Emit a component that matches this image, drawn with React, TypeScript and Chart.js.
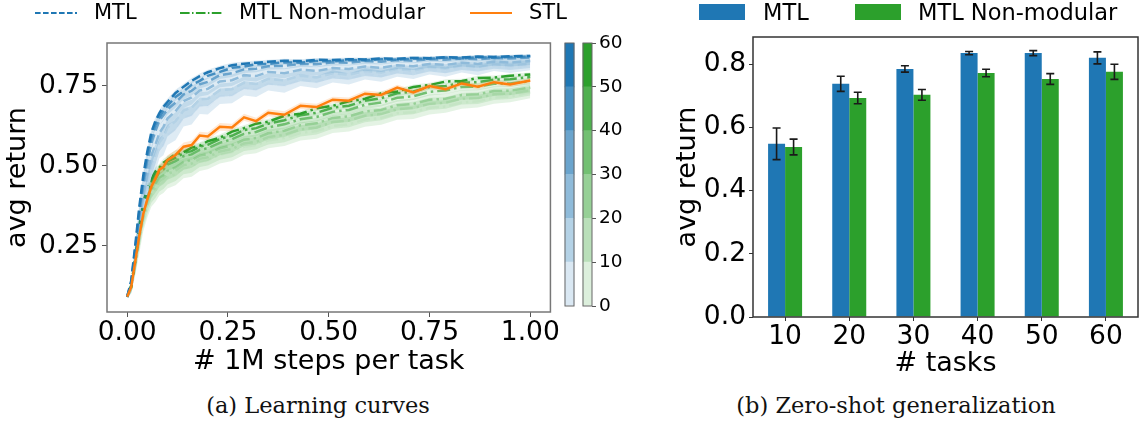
import React, { useEffect, useRef } from "react";
import { Chart, registerables } from "chart.js";
Chart.register(...registerables);

// ---------------- data ----------------
const steps = [0, 0.01, 0.02, 0.03, 0.04, 0.05, 0.06, 0.07, 0.08, 0.09, 0.1, 0.12, 0.14, 0.16, 0.18, 0.2, 0.23, 0.26, 0.29, 0.32, 0.35, 0.39, 0.43, 0.47, 0.51, 0.55, 0.59, 0.63, 0.67, 0.71, 0.75, 0.79, 0.83, 0.87, 0.91, 0.95, 1.0];

const mtl60 = [0.09, 0.14, 0.25, 0.37, 0.47, 0.545, 0.605, 0.64, 0.665, 0.685, 0.70, 0.728, 0.748, 0.766, 0.781, 0.793, 0.806, 0.815, 0.82, 0.823, 0.826, 0.829, 0.828, 0.832, 0.831, 0.834, 0.833, 0.836, 0.835, 0.838, 0.837, 0.84, 0.839, 0.842, 0.841, 0.843, 0.844];
const mtl50 = [0.09, 0.135, 0.24, 0.355, 0.455, 0.53, 0.588, 0.628, 0.652, 0.672, 0.688, 0.716, 0.733, 0.754, 0.766, 0.782, 0.794, 0.807, 0.811, 0.818, 0.819, 0.824, 0.823, 0.828, 0.827, 0.831, 0.83, 0.834, 0.832, 0.836, 0.835, 0.839, 0.836, 0.84, 0.838, 0.841, 0.842];
const mtl40 = [0.09, 0.13, 0.23, 0.34, 0.44, 0.512, 0.57, 0.608, 0.642, 0.658, 0.677, 0.698, 0.723, 0.735, 0.755, 0.763, 0.784, 0.79, 0.802, 0.804, 0.812, 0.813, 0.819, 0.818, 0.824, 0.823, 0.828, 0.826, 0.831, 0.829, 0.834, 0.832, 0.836, 0.834, 0.838, 0.836, 0.839];
const mtl30 = [0.09, 0.125, 0.22, 0.32, 0.41, 0.478, 0.532, 0.566, 0.603, 0.622, 0.648, 0.671, 0.703, 0.714, 0.736, 0.741, 0.764, 0.768, 0.784, 0.781, 0.794, 0.79, 0.801, 0.797, 0.806, 0.803, 0.811, 0.807, 0.815, 0.812, 0.819, 0.816, 0.823, 0.819, 0.826, 0.823, 0.828];
const mtl20 = [0.09, 0.12, 0.21, 0.30, 0.385, 0.448, 0.502, 0.536, 0.574, 0.59, 0.62, 0.64, 0.673, 0.682, 0.708, 0.71, 0.737, 0.74, 0.76, 0.756, 0.772, 0.768, 0.782, 0.777, 0.79, 0.785, 0.797, 0.792, 0.803, 0.798, 0.809, 0.804, 0.814, 0.809, 0.818, 0.814, 0.82];
const mtl10 = [0.09, 0.118, 0.20, 0.29, 0.37, 0.428, 0.483, 0.515, 0.556, 0.565, 0.597, 0.612, 0.652, 0.658, 0.688, 0.686, 0.718, 0.72, 0.743, 0.738, 0.757, 0.75, 0.769, 0.762, 0.78, 0.772, 0.788, 0.781, 0.795, 0.788, 0.802, 0.795, 0.808, 0.8, 0.813, 0.807, 0.815];

const nm60 = [0.09, 0.125, 0.21, 0.31, 0.385, 0.43, 0.458, 0.482, 0.494, 0.51, 0.518, 0.537, 0.543, 0.557, 0.563, 0.577, 0.588, 0.607, 0.618, 0.632, 0.638, 0.657, 0.663, 0.68, 0.688, 0.702, 0.71, 0.727, 0.733, 0.747, 0.753, 0.764, 0.766, 0.775, 0.776, 0.782, 0.786];
const nm50 = [0.09, 0.122, 0.205, 0.30, 0.375, 0.418, 0.452, 0.468, 0.489, 0.498, 0.514, 0.525, 0.54, 0.546, 0.56, 0.566, 0.584, 0.594, 0.612, 0.618, 0.632, 0.643, 0.658, 0.666, 0.682, 0.688, 0.704, 0.712, 0.727, 0.733, 0.747, 0.75, 0.76, 0.762, 0.77, 0.771, 0.778];
const nm40 = [0.09, 0.12, 0.20, 0.29, 0.365, 0.408, 0.442, 0.458, 0.48, 0.488, 0.504, 0.515, 0.53, 0.536, 0.55, 0.555, 0.572, 0.583, 0.6, 0.606, 0.62, 0.63, 0.646, 0.653, 0.669, 0.675, 0.691, 0.698, 0.713, 0.718, 0.732, 0.736, 0.747, 0.748, 0.757, 0.758, 0.765];
const nm30 = [0.09, 0.118, 0.195, 0.28, 0.35, 0.393, 0.427, 0.443, 0.462, 0.47, 0.484, 0.495, 0.512, 0.518, 0.532, 0.537, 0.555, 0.564, 0.582, 0.587, 0.602, 0.61, 0.627, 0.633, 0.65, 0.655, 0.67, 0.675, 0.69, 0.694, 0.707, 0.71, 0.722, 0.724, 0.734, 0.735, 0.745];
const nm20 = [0.09, 0.116, 0.19, 0.27, 0.34, 0.383, 0.417, 0.432, 0.452, 0.46, 0.474, 0.485, 0.502, 0.507, 0.522, 0.527, 0.545, 0.553, 0.57, 0.575, 0.59, 0.597, 0.614, 0.62, 0.637, 0.642, 0.657, 0.662, 0.677, 0.681, 0.694, 0.697, 0.71, 0.712, 0.724, 0.726, 0.737];
const nm10 = [0.09, 0.114, 0.185, 0.26, 0.33, 0.373, 0.407, 0.422, 0.442, 0.45, 0.464, 0.474, 0.492, 0.497, 0.512, 0.517, 0.535, 0.543, 0.56, 0.565, 0.58, 0.587, 0.603, 0.609, 0.625, 0.63, 0.645, 0.65, 0.665, 0.668, 0.682, 0.686, 0.698, 0.702, 0.714, 0.717, 0.73];

const stl = [0.09, 0.12, 0.20, 0.28, 0.35, 0.395, 0.435, 0.46, 0.488, 0.497, 0.518, 0.534, 0.56, 0.565, 0.595, 0.592, 0.622, 0.62, 0.652, 0.64, 0.666, 0.66, 0.688, 0.684, 0.707, 0.704, 0.726, 0.722, 0.745, 0.73, 0.75, 0.74, 0.758, 0.748, 0.762, 0.755, 0.767];

// half-width of the shaded bands (std)
const mtlSpread = [0.003, 0.01, 0.02, 0.025, 0.025, 0.025, 0.025, 0.022, 0.02, 0.02, 0.02, 0.02, 0.018, 0.018, 0.016, 0.016, 0.015, 0.015, 0.014, 0.014, 0.013, 0.013, 0.012, 0.012, 0.012, 0.011, 0.011, 0.011, 0.01, 0.01, 0.01, 0.01, 0.01, 0.01, 0.01, 0.01, 0.01];
const nmSpread = [0.003, 0.01, 0.02, 0.025, 0.025, 0.025, 0.025, 0.025, 0.025, 0.025, 0.025, 0.025, 0.022, 0.022, 0.02, 0.02, 0.02, 0.02, 0.018, 0.018, 0.018, 0.018, 0.017, 0.017, 0.016, 0.016, 0.016, 0.015, 0.015, 0.015, 0.015, 0.014, 0.014, 0.014, 0.014, 0.013, 0.013];
const taskCounts = [10, 20, 30, 40, 50, 60];
const mtlBandScale = [1.6, 1.4, 1.2, 0.8, 0.6, 0.5];
const nmBandScale = [1.4, 1.3, 1.1, 0.8, 0.6, 0.5];
const stlBandScale = 0.6;

const xTickValues = [0, 0.25, 0.5, 0.75, 1.0];
const yTickValues = [0.25, 0.5, 0.75];
const colorbarBounds = [0, 10, 20, 30, 40, 50, 60];

// zero-shot bars
const zeroCategories = ["10", "20", "30", "40", "50", "60"];
const zeroTicks = [0, 0.2, 0.4, 0.6, 0.8];
const mtlZero = [0.548, 0.738, 0.785, 0.835, 0.835, 0.82];
const mtlZeroErr = [0.05, 0.024, 0.01, 0.005, 0.008, 0.019];
const nmZero = [0.538, 0.693, 0.703, 0.772, 0.753, 0.776];
const nmZeroErr = [0.025, 0.018, 0.017, 0.012, 0.017, 0.024];

// ---------------- styles ----------------
const BLUE = [31, 119, 180];
const GREEN = [44, 160, 44];
const ORANGE = [255, 127, 14];
const shade = (rgb: number[], a: number) =>
  `rgb(${Math.round(255 - (255 - rgb[0]) * a)},${Math.round(255 - (255 - rgb[1]) * a)},${Math.round(255 - (255 - rgb[2]) * a)})`;
const rgba = (rgb: number[], a: number) => `rgba(${rgb[0]},${rgb[1]},${rgb[2]},${a})`;
const FONT = "'DejaVu Sans', sans-serif";
const TICK = 26.5;
const TITLE = 27;
Chart.defaults.font.family = FONT;
Chart.defaults.color = "#000";

const framePlugin = (color: string, width: number) => ({
  id: "frame",
  afterDraw(chart: any) {
    const { ctx, chartArea } = chart;
    ctx.save();
    ctx.strokeStyle = color;
    ctx.lineWidth = width;
    ctx.strokeRect(chartArea.left, chartArea.top, chartArea.right - chartArea.left, chartArea.bottom - chartArea.top);
    ctx.restore();
  },
});

function buildCurveDatasets() {
  const ds: any[] = [];
  const add = (values: number[], spread: number[], scale: number, line: string, fill: string, dash: number[]) => {
    ds.push({
      data: steps.map((x, i) => ({ x, y: values[i] })),
      borderColor: line, borderWidth: 2.5, borderDash: dash, pointRadius: 0, fill: false, tension: 0,
    });
    ds.push({
      data: steps.map((x, i) => ({ x, y: values[i] + spread[i] * scale })),
      borderWidth: 0, borderColor: "rgba(0,0,0,0)", pointRadius: 0, fill: "+1", backgroundColor: fill, tension: 0,
    });
    ds.push({
      data: steps.map((x, i) => ({ x, y: values[i] - spread[i] * scale })),
      borderWidth: 0, borderColor: "rgba(0,0,0,0)", pointRadius: 0, fill: false, tension: 0,
    });
  };
  add(stl, nmSpread, stlBandScale, rgba(ORANGE, 1), rgba(ORANGE, 0.18), []);
  const mtl = [mtl10, mtl20, mtl30, mtl40, mtl50, mtl60];
  const nm = [nm10, nm20, nm30, nm40, nm50, nm60];
  const DASH = [9, 4];
  const DASHDOT = [13, 4, 2.5, 4];
  for (let k = 5; k >= 0; k--) add(mtl[k], mtlSpread, mtlBandScale[k], shade(BLUE, (k + 1) / 6), rgba(BLUE, 0.15), DASH);
  for (let k = 5; k >= 0; k--) add(nm[k], nmSpread, nmBandScale[k], shade(GREEN, (k + 1) / 6), rgba(GREEN, 0.13), DASHDOT);
  return ds;
}

function useChart(factory: (canvas: HTMLCanvasElement) => Chart) {
  const ref = useRef<HTMLCanvasElement | null>(null);
  useEffect(() => {
    if (!ref.current) return;
    const c = factory(ref.current);
    return () => c.destroy();
  }, []);
  return ref;
}

function LearningCurves() {
  const ref = useChart((canvas) =>
    new Chart(canvas, {
      type: "line",
      data: { datasets: buildCurveDatasets() },
      options: {
        animation: false, responsive: false, devicePixelRatio: 1,
        layout: { padding: { top: 43, right: 5, left: 0, bottom: 0 } },
        plugins: { legend: { display: false }, tooltip: { enabled: false } },
        scales: {
          x: {
            type: "linear", min: -0.05, max: 1.05,
            afterBuildTicks: (s: any) => { s.ticks = xTickValues.map((v) => ({ value: v })); },
            afterFit: (s: any) => { s.height = 68; },
            ticks: { font: { size: TICK }, color: "#000", padding: 0, autoSkip: false, maxRotation: 0, callback: (v: any) => Number(v).toFixed(2) },
            grid: { drawOnChartArea: false, tickLength: 5, color: "#555", lineWidth: 1 },
            border: { display: false },
            title: { display: true, text: "# 1M steps per task", font: { size: TITLE }, color: "#000", padding: { top: 0, bottom: 2 } },
          },
          y: {
            min: 0.0424, max: 0.8846,
            afterBuildTicks: (s: any) => { s.ticks = yTickValues.map((v) => ({ value: v })); },
            afterFit: (s: any) => { s.width = 107; },
            ticks: { font: { size: TICK }, color: "#000", padding: 4, autoSkip: false, callback: (v: any) => Number(v).toFixed(2) },
            grid: { drawOnChartArea: false, tickLength: 5, color: "#555", lineWidth: 1 },
            border: { display: false },
            title: { display: true, text: "avg return", font: { size: TITLE }, color: "#000", padding: { top: 2, bottom: 0 } },
          },
        },
      },
      plugins: [framePlugin("#777", 1.5)],
    } as any)
  );
  return <canvas ref={ref} width={560} height={380} style={{ position: "absolute", left: 0, top: 0 }} />;
}

function Colorbars() {
  const ref = useChart((canvas) =>
    new Chart(canvas, {
      type: "bar",
      data: {
        datasets: colorbarBounds.slice(0, -1).map((lo, k) => ({
          data: [{ x: 0, y: [lo, colorbarBounds[k + 1]] }, { x: 1, y: [lo, colorbarBounds[k + 1]] }],
          backgroundColor: [shade(BLUE, (k + 1) / 6), shade(GREEN, (k + 1) / 6)],
          barThickness: 9, grouped: false, borderWidth: 0,
        })),
      },
      options: {
        animation: false, responsive: false, devicePixelRatio: 1,
        layout: { padding: { top: 43, bottom: 24, left: 5.5, right: 0 } },
        plugins: { legend: { display: false }, tooltip: { enabled: false } },
        scales: {
          x: { type: "linear", min: -0.5, max: 1.25, display: false, offset: false },
          y: {
            position: "right", min: 0, max: 60,
            afterBuildTicks: (s: any) => { s.ticks = colorbarBounds.map((v) => ({ value: v })); },
            afterFit: (s: any) => { s.width = 53; },
            ticks: { font: { size: 18.5 }, color: "#000", padding: 3 },
            grid: { drawOnChartArea: false, tickLength: 4, color: "#555" },
            border: { display: false },
          },
        },
      },
      plugins: [{
        id: "cbframe",
        afterDatasetsDraw(chart: any) {
          const { ctx, scales } = chart;
          ctx.save();
          ctx.strokeStyle = "#666";
          ctx.lineWidth = 1;
          [0, 1].forEach((v) => {
            const px = scales.x.getPixelForValue(v);
            const top = scales.y.getPixelForValue(colorbarBounds[colorbarBounds.length - 1]);
            const bot = scales.y.getPixelForValue(colorbarBounds[0]);
            ctx.strokeRect(px - 4.5, top, 9, bot - top);
          });
          ctx.restore();
        },
      }],
    } as any)
  );
  return <canvas ref={ref} width={90} height={330} style={{ position: "absolute", left: 555, top: 0 }} />;
}

function ZeroShot() {
  const ref = useChart((canvas) =>
    new Chart(canvas, {
      type: "bar",
      data: {
        labels: zeroCategories,
        datasets: [
          { label: "MTL", data: mtlZero, errors: mtlZeroErr, backgroundColor: rgba(BLUE, 1), borderWidth: 0 },
          { label: "MTL Non-modular", data: nmZero, errors: nmZeroErr, backgroundColor: rgba(GREEN, 1), borderWidth: 0 },
        ],
      },
      options: {
        animation: false, responsive: false, devicePixelRatio: 1,
        categoryPercentage: 0.53, barPercentage: 1,
        layout: { padding: { top: 37, right: 3, left: 0, bottom: 0 } },
        plugins: { legend: { display: false }, tooltip: { enabled: false } },
        scales: {
          x: {
            afterFit: (s: any) => { s.height = 63; },
            ticks: { font: { size: TICK }, color: "#000", padding: 0, autoSkip: false, maxRotation: 0 },
            grid: { drawOnChartArea: false, tickLength: 4, color: "#333", offset: false },
            border: { display: false },
            title: { display: true, text: "# tasks", font: { size: TITLE }, color: "#000", padding: { top: 0, bottom: 0 } },
          },
          y: {
            min: 0, max: 0.886,
            afterBuildTicks: (s: any) => { s.ticks = zeroTicks.map((v) => ({ value: v })); },
            afterFit: (s: any) => { s.width = 83; },
            ticks: { font: { size: TICK }, color: "#000", padding: 3, callback: (v: any) => Number(v).toFixed(1) },
            grid: { drawOnChartArea: false, tickLength: 4, color: "#333" },
            border: { display: false },
            title: { display: true, text: "avg return", font: { size: TITLE }, color: "#000", padding: { top: 2, bottom: 0 } },
          },
        },
      },
      plugins: [
        framePlugin("#333", 1.5),
        {
          id: "errorbars",
          afterDatasetsDraw(chart: any) {
            const { ctx, scales } = chart;
            ctx.save();
            ctx.strokeStyle = "#1a1a1a";
            ctx.lineWidth = 1.6;
            chart.data.datasets.forEach((d: any, di: number) => {
              const meta = chart.getDatasetMeta(di);
              meta.data.forEach((bar: any, i: number) => {
                const v = d.data[i], e = d.errors[i];
                const y1 = scales.y.getPixelForValue(v + e);
                const y2 = scales.y.getPixelForValue(v - e);
                const x = bar.x;
                ctx.beginPath();
                ctx.moveTo(x, y1); ctx.lineTo(x, y2);
                ctx.moveTo(x - 4, y1); ctx.lineTo(x + 4, y1);
                ctx.moveTo(x - 4, y2); ctx.lineTo(x + 4, y2);
                ctx.stroke();
              });
            });
            ctx.restore();
          },
        },
      ],
    } as any)
  );
  return <canvas ref={ref} width={471} height={380} style={{ position: "absolute", left: 670, top: 0 }} />;
}

const txt = (left: number, top: number, size: number, text: string, extra: any = {}) => (
  <span style={{ position: "absolute", left, top, fontFamily: FONT, fontSize: size, lineHeight: `${size}px`, whiteSpace: "nowrap", color: "#000", ...extra }}>{text}</span>
);

const LegendLine = ({ x, y, w, color, dash }: any) => (
  <svg style={{ position: "absolute", left: x, top: y - 3 }} width={w} height={6}>
    <line x1={0} y1={3} x2={w} y2={3} stroke={color} strokeWidth={1.8} strokeDasharray={dash} />
  </svg>
);

export default function App() {
  return (
    <div style={{ position: "absolute", left: 0, top: 0, width: 1141, height: 423, background: "#fff", overflow: "hidden" }}>
      <LearningCurves />
      <Colorbars />
      <ZeroShot />
      {/* left legend */}
      <LegendLine x={35} y={12.5} w={42} color={rgba(BLUE, 1)} dash="5.6 2.4" />
      {txt(94, 2.4, 21, "MTL")}
      <LegendLine x={180} y={12.5} w={42} color={rgba(GREEN, 1)} dash="9.6 2.4 1.5 2.4" />
      {txt(239, 2.4, 21, "MTL Non-modular")}
      <LegendLine x={470} y={12.5} w={42} color={rgba(ORANGE, 1)} dash="" />
      {txt(529, 2.4, 21, "STL")}
      {/* right legend */}
      <div style={{ position: "absolute", left: 699, top: 4, width: 46, height: 16, background: rgba(BLUE, 1) }} />
      {txt(763, 1.2, 22.5, "MTL")}
      <div style={{ position: "absolute", left: 855, top: 4, width: 46, height: 16, background: rgba(GREEN, 1) }} />
      {txt(918, 1.2, 22.5, "MTL Non-modular")}
      {/* captions */}
      <div style={{ position: "absolute", left: 118, width: 400, top: 394, textAlign: "center", fontFamily: "'DejaVu Serif', serif", fontSize: 22.5, lineHeight: "22.5px", color: "#111" }}>(a) Learning curves</div>
      <div style={{ position: "absolute", left: 696, width: 400, top: 394, textAlign: "center", fontFamily: "'DejaVu Serif', serif", fontSize: 22.5, lineHeight: "22.5px", color: "#111" }}>(b) Zero-shot generalization</div>
    </div>
  );
}
